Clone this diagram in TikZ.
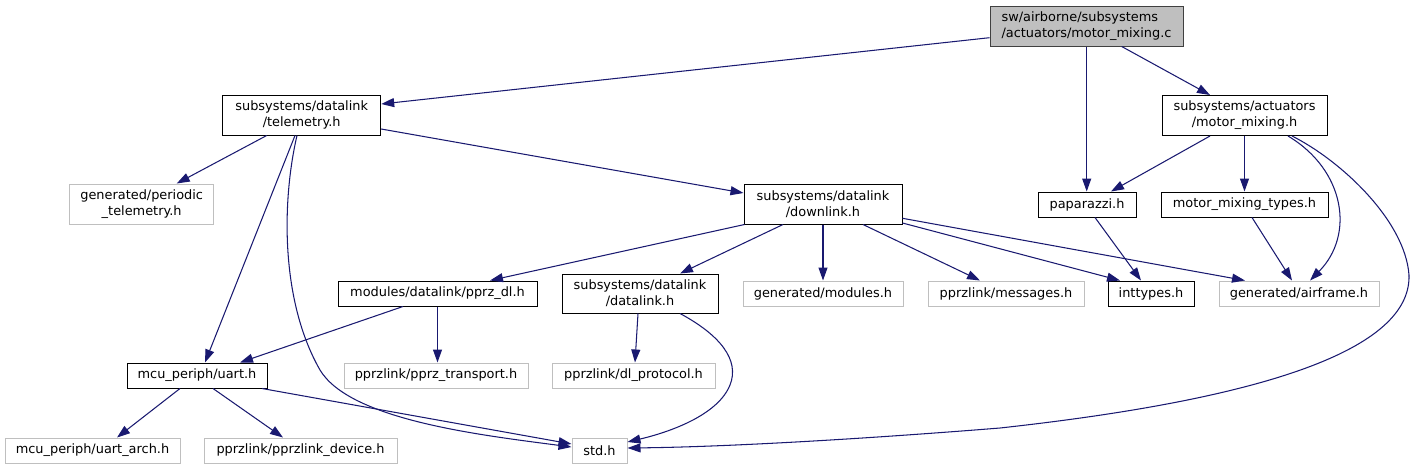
\documentclass[tikz,border=0pt]{standalone}
\usepackage{fontspec}
\setmainfont{DejaVu Sans}
\usetikzlibrary{arrows.meta,calc}
\definecolor{edgeblue}{HTML}{191970}
\definecolor{ghostgray}{HTML}{BFBFBF}
\definecolor{rootgray}{HTML}{BFBFBF}
\definecolor{rootborder}{HTML}{404040}
\begin{document}
\begin{tikzpicture}[x=1pt,y=-1pt,
  every node/.style={font=\fontsize{12.9}{16}\selectfont, align=center, inner sep=0pt},
  doc/.style={draw=black, line width=1pt, fill=white},
  ghost/.style={draw=ghostgray, line width=1pt, fill=white},
  rootnode/.style={draw=rootborder, fill=rootgray, line width=1pt, align=left},
  dep/.style={draw=edgeblue, line width=1.05pt, -{Triangle[length=13pt,width=9pt]}}
]
\useasboundingbox (0,0) rectangle (1414,469);

% nodes
\node[rootnode, minimum width=193pt, minimum height=40pt] (root) at (1086.5,26) {sw/airborne/subsystems\\/actuators/motor\_mixing.c};
\node[doc, minimum width=158pt, minimum height=40pt] (tel) at (301.7,115) {subsystems/datalink\\/telemetry.h};
\node[doc, minimum width=165pt, minimum height=40pt] (mmh) at (1244.5,115.5) {subsystems/actuators\\/motor\_mixing.h};
\node[ghost, minimum width=144pt, minimum height=40pt] (per) at (141.7,204) {generated/periodic\\\_telemetry.h};
\node[doc, minimum width=158pt, minimum height=40pt] (down) at (823,204) {subsystems/datalink\\/downlink.h};
\node[doc, minimum width=98pt, minimum height=25pt] (pap) at (1087,204.5) {paparazzi.h};
\node[doc, minimum width=167pt, minimum height=25pt] (mmt) at (1244.5,204.5) {motor\_mixing\_types.h};
\node[doc, minimum width=199pt, minimum height=25pt] (pdl) at (437.5,293.5) {modules/datalink/pprz\_dl.h};
\node[doc, minimum width=156pt, minimum height=39pt] (dlk) at (640,293.5) {subsystems/datalink\\/datalink.h};
\node[ghost, minimum width=160pt, minimum height=25pt] (mods) at (823,293.5) {generated/modules.h};
\node[ghost, minimum width=156pt, minimum height=25pt] (msgs) at (1006,293.5) {pprzlink/messages.h};
\node[doc, minimum width=86pt, minimum height=25pt] (intt) at (1151,293.5) {inttypes.h};
\node[ghost, minimum width=160pt, minimum height=25pt] (afr) at (1299,293.5) {generated/airframe.h};
\node[doc, minimum width=140pt, minimum height=25pt] (uart) at (197,375.5) {mcu\_periph/uart.h};
\node[ghost, minimum width=184pt, minimum height=25pt] (ptr) at (436,375.5) {pprzlink/pprz\_transport.h};
\node[ghost, minimum width=163pt, minimum height=25pt] (dlp) at (633.5,375.5) {pprzlink/dl\_protocol.h};
\node[ghost, minimum width=175pt, minimum height=25pt] (uarch) at (92.5,450.5) {mcu\_periph/uart\_arch.h};
\node[ghost, minimum width=193pt, minimum height=25pt] (pdev) at (300.5,450.5) {pprzlink/pprzlink\_device.h};
\node[ghost, minimum width=55pt, minimum height=25pt] (std) at (599.5,450.5) {std.h};

% edges
\draw[dep] ([yshift=-11.7pt]root.west) -- ([yshift=11pt]tel.east);
\draw[dep] ([xshift=0.2pt]root.south) -- ([xshift=-0.3pt]pap.north);
\draw[dep] ([xshift=35.2pt]root.south) -- ([xshift=-34.5pt]mmh.north);

\draw[dep] ([xshift=-35pt]tel.south) -- ([xshift=35pt]per.north);
\draw[dep] ([xshift=-6.7pt]tel.south) -- ([xshift=8pt]uart.north);
\draw[dep] ([xshift=-4.7pt]tel.south) .. controls (282,200) and (280,300) .. (320,370)
  .. controls (350,420) and (480,435) .. ([yshift=3.5pt]std.west);
\draw[dep] ([yshift=-14pt]tel.east) -- ([yshift=11pt]down.west);

\draw[dep] ([xshift=-34.5pt]mmh.south) -- ([xshift=24pt]pap.north);
\draw[dep] (mmh.south) -- (mmt.north);
\draw[dep] ([xshift=43.5pt]mmh.south) .. controls (1345,170) and (1355,235) .. ([xshift=11pt]afr.north);
\draw[dep] ([xshift=47.5pt]mmh.south) .. controls (1340,160) and (1405,220) .. (1409,275)
  .. controls (1411,340) and (1300,395) .. (1000,428)
  .. controls (850,440) and (720,447) .. ([yshift=2.5pt]std.east);

\draw[dep] ([xshift=1pt]down.south west) -- ([xshift=52.5pt]pdl.north);
\draw[dep] ([xshift=-40pt]down.south) -- ([xshift=40pt]dlk.north);
\draw[dep] (down.south) -- (mods.north);
\draw[dep] ([xshift=40pt]down.south) -- ([xshift=-26pt]msgs.north);
\draw[dep] ([yshift=1.5pt]down.south east) -- ([xshift=-31pt]intt.north);
\draw[dep] ([yshift=-14.3pt]down.east) -- ([xshift=-54pt]afr.north);

\draw[dep] ([xshift=8pt]pap.south) -- ([xshift=-10pt]intt.north);
\draw[dep] ([xshift=7.5pt]mmt.south) -- ([xshift=-7pt]afr.north);

\draw[dep] ([xshift=-34.5pt]pdl.south) -- ([xshift=43pt]uart.north);
\draw[dep] (pdl.south) -- (pdl.south |- ptr.north);

\draw[dep] ([xshift=-2pt]dlk.south) -- ([xshift=1.5pt]dlp.north);
\draw[dep] ([xshift=40pt]dlk.south) .. controls (720,335) and (740,360) .. (730,385)
  .. controls (718,415) and (670,432) .. ([yshift=8.5pt]std.east);

\draw[dep] ([xshift=-17pt]uart.south) -- ([xshift=24.5pt]uarch.north);
\draw[dep] ([xshift=16pt]uart.south) -- ([xshift=-17.5pt]pdev.north);
\draw[dep] ([xshift=65pt]uart.south) -- ([yshift=6.5pt]std.west);
\end{tikzpicture}
\end{document}
